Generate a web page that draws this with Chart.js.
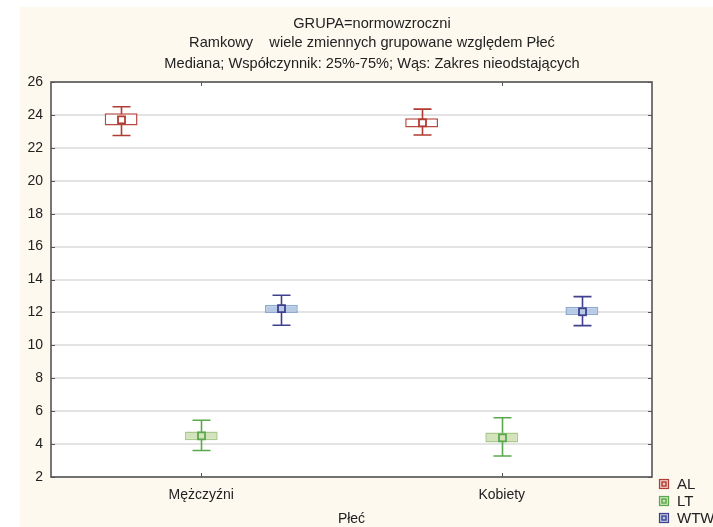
<!DOCTYPE html>
<html>
<head>
<meta charset="utf-8">
<script src="https://cdn.jsdelivr.net/npm/chart.js@4/dist/chart.umd.min.js"></script>
<style>
  html, body { margin: 0; padding: 0; background: #fff; }
  #wrap { position: relative; width: 713px; height: 527px; }
</style>
</head>
<body>
<div id="wrap"><canvas id="c" width="713" height="527"></canvas></div>
<script>
// Categories (Płeć) and series
const categories = ['Mężczyźni', 'Kobiety'];
const seriesNames = ['AL', 'LT', 'WTW'];

// Box plot statistics per series: [Mężczyźni, Kobiety]
const alMin = [22.75, 22.78];
const alQ1  = [23.35, 23.23];
const alMed = [23.70, 23.52];
const alQ3  = [24.10, 23.80];
const alMax = [24.50, 24.35];

const ltMin = [3.61, 3.28];
const ltQ1  = [4.23, 4.09];
const ltMed = [4.50, 4.38];
const ltQ3  = [4.76, 4.70];
const ltMax = [5.45, 5.60];

const wtwMin = [11.22, 11.20];
const wtwQ1  = [11.96, 11.84];
const wtwMed = [12.23, 12.04];
const wtwQ3  = [12.47, 12.35];
const wtwMax = [13.04, 12.96];

// Value axis ticks
const yTickMin = 2;
const yTickMax = 26;
const yTickStep = 2;

const titleLines = [
  'GRUPA=normowzroczni',
  'Ramkowy    wiele zmiennych grupowane względem Płeć',
  'Mediana; Współczynnik: 25%-75%; Wąs: Zakres nieodstających'
];
const xAxisTitle = 'Płeć';

const styles = {
  AL:  { line: '#b03c34', boxFill: '#ffffff', boxLine: '#b84a42', legFill: '#f1c9c2' },
  LT:  { line: '#5aa84e', boxFill: '#d4e3bc', boxLine: '#a9c98f', legFill: '#cfe3bb' },
  WTW: { line: '#40408f', boxFill: '#b8cbe4', boxLine: '#8eaad2', legFill: '#b8cbe4' }
};

const stats = {
  AL:  { min: alMin,  q1: alQ1,  med: alMed,  q3: alQ3,  max: alMax },
  LT:  { min: ltMin,  q1: ltQ1,  med: ltMed,  q3: ltQ3,  max: ltMax },
  WTW: { min: wtwMin, q1: wtwQ1, med: wtwMed, q3: wtwQ3, max: wtwMax }
};

const FONT = '"Liberation Sans", Arial, sans-serif';
Chart.defaults.font.family = FONT;

// Boxes are floating bars from Q1 to Q3
const datasets = seriesNames.map(name => ({
  label: name,
  data: categories.map((c, i) => [stats[name].q1[i], stats[name].q3[i]]),
  backgroundColor: styles[name].boxFill,
  borderColor: styles[name].boxLine,
  borderWidth: 1.5,
  borderSkipped: false,
  categoryPercentage: 0.8,
  barPercentage: 0.41
}));

// Page background, cream frame and white plot area
const backgroundPlugin = {
  id: 'bg',
  beforeDraw(chart) {
    const { ctx, chartArea: a } = chart;
    ctx.save();
    ctx.fillStyle = '#ffffff';
    ctx.fillRect(0, 0, chart.width, chart.height);
    ctx.fillStyle = '#fdf9ef';
    ctx.fillRect(20, 7, chart.width - 20, chart.height - 7);
    ctx.fillStyle = '#ffffff';
    ctx.fillRect(a.left, a.top, a.right - a.left, a.bottom - a.top);
    ctx.restore();
  }
};

// Whiskers under the boxes, median markers on top
const whiskerPlugin = {
  id: 'whiskers',
  beforeDatasetsDraw(chart) {
    const { ctx } = chart;
    const y = chart.scales.y;
    ctx.save();
    chart.data.datasets.forEach((ds, di) => {
      const st = stats[ds.label];
      const meta = chart.getDatasetMeta(di);
      meta.data.forEach((bar, i) => {
        const x = Math.round(bar.x) + 0.5;
        const yMin = y.getPixelForValue(st.min[i]);
        const yMax = y.getPixelForValue(st.max[i]);
        ctx.strokeStyle = styles[ds.label].line;
        ctx.lineWidth = 1.6;
        ctx.beginPath();
        ctx.moveTo(x, yMin); ctx.lineTo(x, yMax);
        ctx.moveTo(x - 9, yMin); ctx.lineTo(x + 9, yMin);
        ctx.moveTo(x - 9, yMax); ctx.lineTo(x + 9, yMax);
        ctx.stroke();
      });
    });
    ctx.restore();
  },
  afterDatasetsDraw(chart) {
    const { ctx } = chart;
    const y = chart.scales.y;
    ctx.save();
    chart.data.datasets.forEach((ds, di) => {
      const st = stats[ds.label];
      const meta = chart.getDatasetMeta(di);
      meta.data.forEach((bar, i) => {
        const x = Math.round(bar.x) + 0.5;
        const ym = y.getPixelForValue(st.med[i]);
        ctx.fillStyle = styles[ds.label].boxFill;
        ctx.strokeStyle = styles[ds.label].line;
        ctx.lineWidth = 1.8;
        ctx.fillRect(x - 3.5, ym - 3.5, 7, 7);
        ctx.strokeRect(x - 3.5, ym - 3.5, 7, 7);
      });
    });
    ctx.restore();
  }
};

// Plot frame, inner ticks, titles and legend
const framePlugin = {
  id: 'frame',
  afterDraw(chart) {
    const { ctx, chartArea: a } = chart;
    const y = chart.scales.y;
    const x = chart.scales.x;
    ctx.save();
    ctx.strokeStyle = '#555555';
    ctx.lineWidth = 1.6;
    ctx.strokeRect(a.left, a.top, a.right - a.left, a.bottom - a.top);

    ctx.lineWidth = 1;
    ctx.beginPath();
    for (let v = yTickMin; v <= yTickMax; v += yTickStep) {
      const py = Math.round(y.getPixelForValue(v)) + 0.5;
      ctx.moveTo(a.left, py); ctx.lineTo(a.left + 4, py);
      ctx.moveTo(a.right, py); ctx.lineTo(a.right - 4, py);
    }
    categories.forEach((c, i) => {
      const px = Math.round(x.getPixelForValue(i)) + 0.5;
      ctx.moveTo(px, a.bottom); ctx.lineTo(px, a.bottom - 4);
      ctx.moveTo(px, a.top); ctx.lineTo(px, a.top + 4);
    });
    ctx.stroke();

    // Titles
    ctx.fillStyle = '#222222';
    ctx.font = '14.6px ' + FONT;
    ctx.textAlign = 'center';
    ctx.textBaseline = 'middle';
    const titleY = [24, 43, 64];
    titleLines.forEach((t, i) => ctx.fillText(t, 372, titleY[i]));

    // Axis title
    ctx.font = '14px ' + FONT;
    ctx.fillText(xAxisTitle, (a.left + a.right) / 2, 519);

    // Legend
    ctx.font = '15px ' + FONT;
    ctx.textAlign = 'left';
    const legY = [484, 501, 518];
    seriesNames.forEach((name, i) => {
      const s = styles[name];
      const cy = legY[i];
      ctx.fillStyle = s.legFill;
      ctx.fillRect(659, cy - 5, 10, 10);
      ctx.strokeStyle = s.line;
      ctx.lineWidth = 1.2;
      ctx.strokeRect(659.5, cy - 4.5, 9, 9);
      ctx.lineWidth = 1.4;
      ctx.strokeRect(662, cy - 2, 4, 4);
      ctx.fillStyle = '#222222';
      ctx.fillText(name, 677, cy + 1);
    });
    ctx.restore();
  }
};

new Chart(document.getElementById('c'), {
  type: 'bar',
  data: { labels: categories, datasets },
  options: {
    responsive: false,
    devicePixelRatio: 1,
    animation: false,
    layout: { padding: { left: 0, top: 82, right: 61, bottom: 0 } },
    plugins: { legend: { display: false }, title: { display: false }, tooltip: { enabled: false } },
    scales: {
      x: {
        grid: { display: false, drawTicks: false },
        border: { display: false },
        ticks: { color: '#222222', font: { size: 14 }, padding: 10 },
        afterFit: s => { s.height = 50; }
      },
      y: {
        min: yTickMin,
        max: yTickMax,
        grid: { color: '#e3e3e3', lineWidth: 2, drawTicks: false },
        border: { display: false },
        ticks: { stepSize: yTickStep, color: '#222222', font: { size: 14 }, padding: 8 },
        afterFit: s => { s.width = 51; }
      }
    }
  },
  plugins: [backgroundPlugin, whiskerPlugin, framePlugin]
});
</script>
</body>
</html>
